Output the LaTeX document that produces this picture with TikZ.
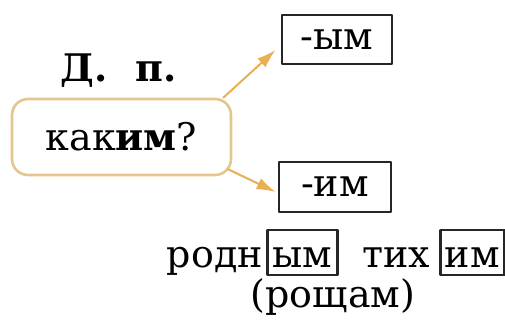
\documentclass[tikz,border=0pt]{standalone}
\usepackage{fontspec}
\setmainfont{DejaVu Serif}
\usepackage{xcolor}
\usepackage{tikz}
\usetikzlibrary{arrows.meta}
\usetikzlibrary{calc}
\definecolor{arrowtan}{RGB}{232,176,80}
\definecolor{boxtan}{RGB}{228,198,140}
\tikzset{
	word/.style={inner sep=0pt, font=\fontsize{38}{42}\selectfont},
	endbox/.style={word, draw=black!85, line width=2.8pt},
	askbox/.style={word, draw=boxtan, line width=2.6pt, rounded corners=16pt, fill=white},
	arr/.style={color=arrowtan, line width=2pt, -{Latex[length=19pt,width=12pt]}}
}

\begin{document}
\begin{tikzpicture}[line cap=round,line join=round,x=1pt,y=-1pt]
	\useasboundingbox (0,0) rectangle (505,320);
	% question and case
	\node[word, font=\fontsize{38}{42}\selectfont\bfseries, anchor=base] (case) at (119,82) {Д.\hspace{28pt}п.};
	\node[askbox, minimum width=219pt, minimum height=76pt] (ask) at (121.5,137) {как\textbf{им}?};
	% endings
	\node[endbox, minimum width=110pt, minimum height=49pt] (ym) at (337,39.5) {-ым};
	\node[endbox, minimum width=112pt, minimum height=50pt] (im) at (335,187) {-им};
	\draw[arr] ($(ask.north east)+(-9,0)$) -- ($(ym.west)+(-5,10.5)$);
	\draw[arr] ($(ask.south east)+(-4,-7)$) -- ($(im.west)+(-2,5)$);
	% examples
	\node[word, anchor=base east] (rodn) at (263,267) {родн};
	\node[endbox, anchor=base west, minimum width=70pt, text height=37pt, text depth=8pt] (ymex) at (266,267) {ым};
	\node[word, anchor=base east] (tih) at (430,267) {тих};
	\node[endbox, anchor=base west, minimum width=64pt, text height=37pt, text depth=8pt] (imex) at (439,267) {им};
	\node[word, anchor=base] (grove) at (333,307) {(рощам)};
\end{tikzpicture}
\end{document}
